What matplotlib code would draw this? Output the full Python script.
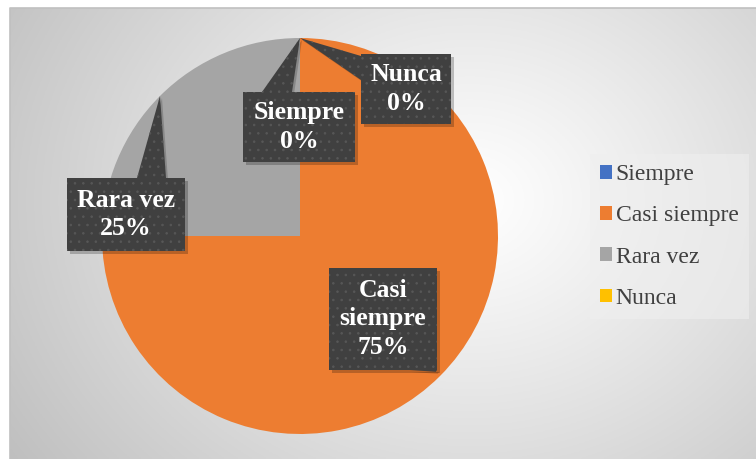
import textwrap
import numpy as np
import matplotlib
matplotlib.use('Agg')
import matplotlib.pyplot as plt
from matplotlib.patches import Rectangle, Polygon

# datos
categorias = ['Siempre', 'Casi siempre', 'Rara vez', 'Nunca']
porcentajes = [0, 75, 25, 0]
colores = ['#4472C4', '#ED7D31', '#A5A5A5', '#FFC000']

W, H = 756, 459
SERIF = ['Liberation Serif', 'DejaVu Serif']
plt.rcParams['hatch.linewidth'] = 0.6


def py(y):
    # coordenada en pixeles (desde arriba) -> datos
    return H - y


fig = plt.figure(figsize=(W / 100, H / 100), dpi=100)
ax = fig.add_axes([0, 0, 1, 1])
ax.set_xlim(0, W)
ax.set_ylim(0, H)
ax.set_aspect('equal')
ax.axis('off')

# fondo con degradado radial
x0, x1, y0, y1 = 10, W, 8, H
gx, gy = np.meshgrid(np.linspace(x0, x1, 300), np.linspace(y0, y1, 200))
r = np.hypot(gx - 470, (gy - 200) * 1.2)
v = 1 - 0.25 * (r / r.max()) ** 1.1
ax.imshow(np.dstack([v, v, v]), extent=(x0, x1, py(y1), py(y0)),
          origin='upper', zorder=0, aspect='auto')
ax.plot([x0, x0, x1], [py(y1), py(y0), py(y0)], color='#c0c0c0', lw=1.2, zorder=1)

# pastel
cx, cy, R = 300, py(236), 198
wedges, _ = ax.pie(porcentajes, colors=colores, startangle=90, counterclock=False,
                   radius=R, center=(cx, cy), frame=True,
                   wedgeprops=dict(linewidth=0))
for w in wedges:
    w.set_zorder(2)
ax.set_xlim(0, W)
ax.set_ylim(0, H)
ax.axis('off')

# cajas de etiquetas: (x, y, ancho, alto) en pixeles y base del puntero
cajas = {
    'Siempre': ((243, 92, 112, 70), [(262, 92), (292, 92)], 1.0),
    'Casi siempre': ((329, 268, 108, 102), [(410, 370), (437, 370)], 0.97),
    'Rara vez': ((67, 178, 118, 73), [(137, 178), (166, 178)], 1.0),
    'Nunca': ((361, 54, 90, 70), [(361, 56), (361, 80)], 1.0),
}

for w, cat, val in zip(wedges, categorias, porcentajes):
    (bx, by, bw, bh), base, rf = cajas[cat]
    ang = np.deg2rad((w.theta1 + w.theta2) / 2)
    tip = (cx + R * rf * np.cos(ang), cy + R * rf * np.sin(ang))
    tri = [(base[0][0], py(base[0][1])), (base[1][0], py(base[1][1])), tip]
    # sombra
    ax.add_patch(Rectangle((bx + 3, py(by + bh + 3)), bw, bh, facecolor='black',
                           alpha=0.22, lw=0, zorder=3))
    ax.add_patch(Polygon([(p[0] + 2, p[1] - 2) for p in tri], facecolor='black',
                         alpha=0.18, lw=0, zorder=3))
    for patch in (Rectangle((bx, py(by + bh)), bw, bh), Polygon(tri)):
        patch.set_facecolor('#404040')
        patch.set_edgecolor('#575757')
        patch.set_linewidth(0)
        patch.set_hatch('..')
        patch.set_zorder(4)
        ax.add_patch(patch)
    ax.text(bx + bw / 2, py(by + bh / 2), f'{textwrap.fill(cat, 8)}\n{val}%',
            ha='center', va='center', color='white', fontsize=18.5,
            fontweight='bold', family=SERIF, linespacing=1.3, zorder=5)

# leyenda
leg = ax.legend(wedges, categorias, loc='upper left',
                bbox_to_anchor=(578 / W, 1 - 142 / H), bbox_transform=fig.transFigure,
                prop=dict(family=SERIF, size=17), labelcolor='#404040',
                handlelength=0.5, handleheight=0.5, handletextpad=0.15,
                labelspacing=0.85, borderpad=0.45, frameon=True, fancybox=False,
                facecolor='#efefef', edgecolor='none', framealpha=0.6)
leg.set_zorder(6)

fig.savefig('out.png', dpi=100)
